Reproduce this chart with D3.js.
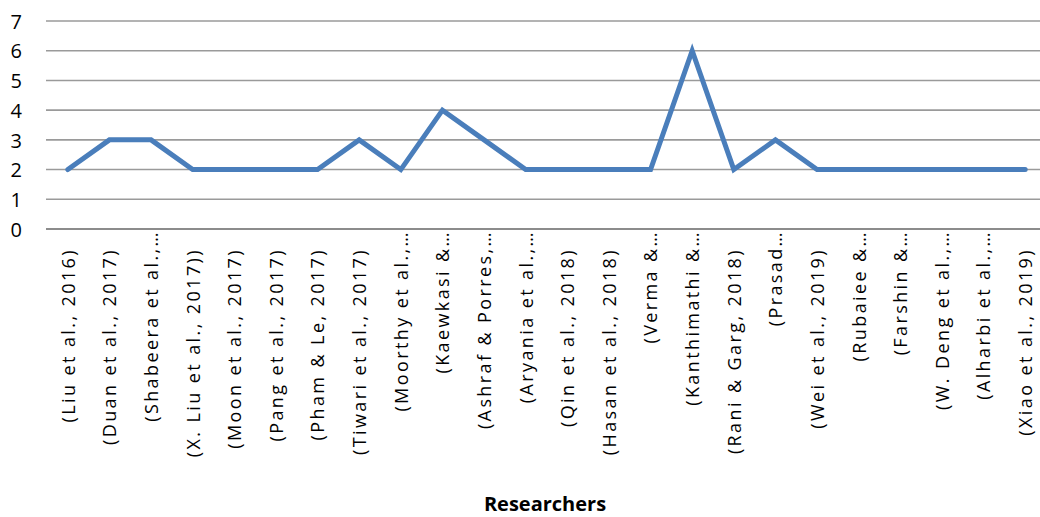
<!DOCTYPE html>
<html>
<head>
<meta charset="utf-8">
<script src="https://cdn.jsdelivr.net/npm/d3@7/dist/d3.min.js"></script>
<style>
  html, body { margin: 0; padding: 0; background: #fff; }
  svg { display: block; }
  text { font-family: "Open Sans", "Noto Sans", sans-serif; fill: #000; }
</style>
</head>
<body>
<svg id="chart" width="1040" height="517"></svg>
<script>
// Researchers (category axis labels, as shown; long ones are cut with an ellipsis)
const researchers = [
  "(Liu et al., 2016)",
  "(Duan et al., 2017)",
  "(Shabeera et al.,…",
  "(X. Liu et al., 2017))",
  "(Moon et al., 2017)",
  "(Pang et al., 2017)",
  "(Pham & Le, 2017)",
  "(Tiwari et al., 2017)",
  "(Moorthy et al.,…",
  "(Kaewkasi &…",
  "(Ashraf & Porres,…",
  "(Aryania et al.,…",
  "(Qin et al., 2018)",
  "(Hasan et al., 2018)",
  "(Verma &…",
  "(Kanthimathi &…",
  "(Rani & Garg, 2018)",
  "(Prasad…",
  "(Wei et al., 2019)",
  "(Rubaiee &…",
  "(Farshin &…",
  "(W. Deng et al.,…",
  "(Alharbi et al.,…",
  "(Xiao et al., 2019)"
];

// Series values, one per researcher
const counts = [2, 3, 3, 2, 2, 2, 2, 3, 2, 4, 3, 2, 2, 2, 2, 6, 2, 3, 2, 2, 2, 2, 2, 2];

// Value axis ticks
const yTicks = [0, 1, 2, 3, 4, 5, 6, 7];

const axisTitle = "Researchers";

const svg = d3.select("#chart");
const W = 1040, H = 517;

const x = d3.scalePoint()
  .domain(researchers)
  .range([47, 1046])
  .padding(0.5);

const y = d3.scaleLinear()
  .domain([0, 7])
  .range([229, 21]);

// Horizontal gridlines
svg.append("g")
  .selectAll("line")
  .data(yTicks)
  .join("line")
  .attr("x1", 46)
  .attr("x2", W)
  .attr("y1", d => y(d))
  .attr("y2", d => y(d))
  .attr("stroke", d => d === 0 ? "#8c8c8c" : "#9a9a9a")
  .attr("stroke-width", d => d === 0 ? 2.2 : 1.6);

// Value axis labels
const yAxis = d3.axisLeft(y)
  .tickValues(yTicks)
  .tickFormat(d3.format("d"))
  .tickSize(0)
  .tickPadding(0);
const gy = svg.append("g").attr("transform", "translate(22,0)").call(yAxis);
gy.select(".domain").remove();
gy.selectAll("text")
  .attr("font-family", "'Open Sans', sans-serif")
  .attr("font-size", 20)
  .attr("fill", "#000")
  .attr("dy", "0.36em");

// Category labels, rotated to read bottom-to-top
const xAxis = d3.axisBottom(x).tickSize(0).tickPadding(0);
const gx = svg.append("g").call(xAxis);
gx.select(".domain").remove();
gx.selectAll(".tick text")
  .attr("font-family", "'Open Sans', sans-serif")
  .attr("font-size", 18)
  .attr("letter-spacing", 2.4)
  .attr("fill", "#000")
  .attr("text-anchor", "end")
  .attr("dy", "0.35em")
  .attr("transform", d => {
    const top = d.endsWith("…") ? 230 : 248;
    return `translate(0,${top}) rotate(-90)`;
  })
  .attr("x", 0)
  .attr("y", 0);

// Series line
const line = d3.line()
  .x((d, i) => x(researchers[i]))
  .y(d => y(d));

svg.append("path")
  .datum(counts)
  .attr("d", line)
  .attr("fill", "none")
  .attr("stroke", "#4a7ebb")
  .attr("stroke-width", 5)
  .attr("stroke-linejoin", "miter")
  .attr("stroke-linecap", "round");

// Axis title
svg.append("text")
  .attr("x", 545)
  .attr("y", 511)
  .attr("text-anchor", "middle")
  .attr("font-size", 20)
  .attr("font-weight", "bold")
  .text(axisTitle);
</script>
</body>
</html>
